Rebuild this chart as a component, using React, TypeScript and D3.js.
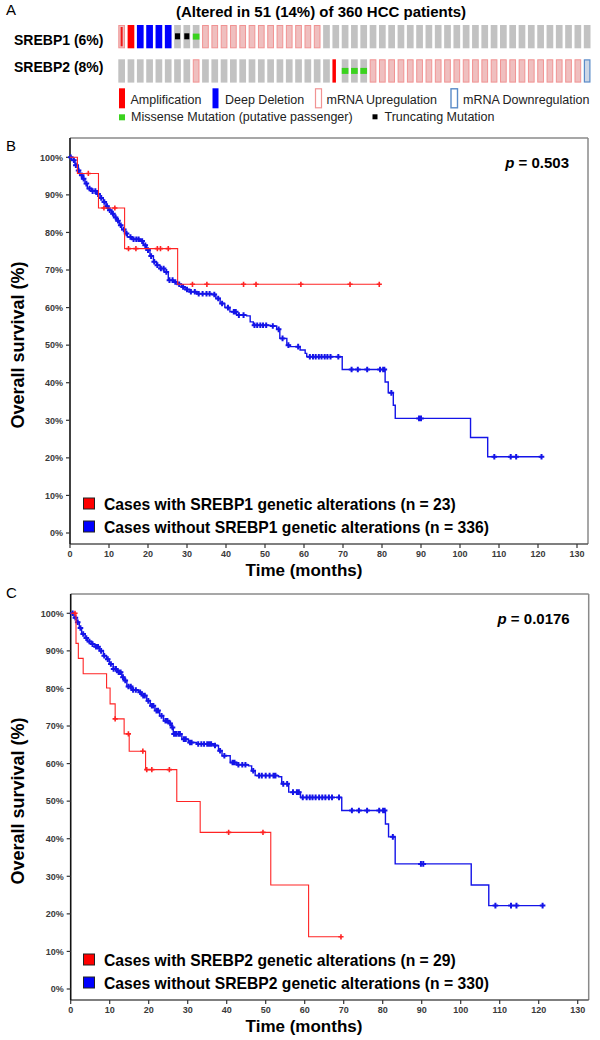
import React from 'react';
import * as d3 from 'd3';

const FONT = '"Liberation Sans", Arial, Helvetica, sans-serif';

// ---------- Panel A: oncoprint ----------
const oncoTitle = '(Altered in 51 (14%) of 360 HCC patients)';
const geneLabels = ['SREBP1 (6%)', 'SREBP2 (8%)'];
// x: mRNA up + amplification sliver, a: amplification, d: deep deletion, t: truncating,
// m: missense, u: mRNA upregulation, w: mRNA downregulation, r: narrow amplification, g: unaltered
const srebp1Cells = 'xaddddttm' + 'uuuuuuuuuuuuu' + 'ggggggggggggggggggggggggggggg';
const srebp2Cells = 'gggggggg' + 'u' + 'gggggggggggggg' + 'r' + 'mmm' + 'uuuuuuuuuuuuuuuuuuuuuuu' + 'w';
const legendRow1 = ['Amplification', 'Deep Deletion', 'mRNA Upregulation', 'mRNA Downregulation'];
const legendRow1Kinds = ['a', 'd', 'uo', 'wo'];
const legendRow2 = ['Missense Mutation (putative passenger)', 'Truncating Mutation'];
const legendRow2Kinds = ['m', 't'];

// ---------- Panel B / C: Kaplan-Meier ----------
type Pt = [number, number];
const xTicks = [0, 10, 20, 30, 40, 50, 60, 70, 80, 90, 100, 110, 120, 130];
const yTicks = [0, 10, 20, 30, 40, 50, 60, 70, 80, 90, 100];

const bRed: Pt[] = [[0, 100], [1.9, 95.7], [7.3, 86.5], [14.0, 75.7], [27.6, 66.2]];
const bRedEnd = 79.3;
const bRedCensor = [4.7, 8.7, 11.5, 15.0, 16.9, 22.4, 23.2, 25.2, 31.4, 35.1, 44.5, 47.7, 59.2, 71.8, 79.3];

const bBlue: Pt[] = [
  [0, 100], [0.43, 99.2], [1.28, 97.9], [2.14, 96.5], [2.56, 95.2], [3.25, 94.3], [3.85, 93.0],
  [4.44, 91.7], [5.56, 91.0], [6.84, 90.2], [7.69, 89.2], [8.55, 88.1], [9.23, 87.0], [9.83, 85.9],
  [10.68, 85.0], [11.28, 84.0], [11.97, 83.1], [12.65, 81.9], [13.25, 80.8], [14.1, 79.7],
  [14.7, 78.8], [15.8, 78.2], [17.95, 77.7], [18.8, 76.6], [19.66, 75.3], [20.5, 73.7],
  [21.4, 72.2], [22.2, 71.3], [23.1, 70.4], [24.1, 69.5], [25.2, 67.3], [26.5, 66.8],
  [27.5, 66.2], [28.6, 65.5], [29.5, 64.8], [30.8, 64.2], [32.5, 63.7], [36.3, 63.5],
  [37.4, 62.4], [38.5, 61.1], [39.7, 60.0], [41.0, 58.9], [42.7, 58.0], [45.3, 57.8],
  [46.2, 56.2], [47.0, 55.3], [51.3, 55.1], [53.0, 54.2], [53.8, 51.8], [55.6, 50.0],
  [56.4, 49.6], [59.0, 48.7], [60.3, 47.8], [60.7, 46.9], [69.8, 43.5], [80.8, 40.2],
  [81.6, 37.3], [82.9, 34.0], [83.4, 30.5], [102.7, 25.4], [107.1, 20.3],
];
const bBlueEnd = 120.9;
const bBlueCensor = [
  0.2, 1, 1.5, 2.2, 3, 3.5, 4.2, 5, 5.8, 6.5, 7.2, 8, 8.8, 9.5, 10.2, 11, 11.7, 12.3, 13, 13.8,
  14.5, 15.5, 16.3, 17, 17.6, 18.5, 19.3, 20, 20.8, 21.6, 22.4, 23.3, 24, 24.7, 25.5, 26.3, 27,
  28, 29, 30, 31, 32, 33, 34, 35, 35.8, 37, 38, 39, 40.5, 42, 42.5, 43.3, 44.5, 47.3, 48, 48.8,
  49.5, 50.3, 52, 53.5, 54.5, 56, 58.5, 61.5, 62.3, 63, 63.8, 64.5, 65.3, 66, 66.8, 68.8, 72.2,
  73.8, 76.2, 79.5, 80.3, 80.6, 82.4, 89.5, 90, 108.8, 113, 114.4, 120.9,
];

const cRed: Pt[] = [
  [0, 100], [1.36, 92.0], [1.96, 88.0], [3.2, 83.9], [9.2, 80.1], [10.1, 75.9], [11.4, 71.9],
  [13.7, 67.9], [15.0, 63.3], [19.2, 58.4], [27.2, 49.9], [33.2, 41.7], [51.3, 27.7], [61.0, 13.9],
];
const cRedEnd = 69.3;
const cRedCensor = [1.1, 11.4, 14.8, 18.5, 19.5, 20.8, 25.3, 40.5, 49.3, 69.3];

const cBlue: Pt[] = [
  [0, 100], [0.86, 98.8], [1.54, 97.6], [2.2, 96.1], [2.8, 94.5], [3.7, 93.4], [4.3, 92.5],
  [5.4, 91.8], [6.2, 91.1], [7.4, 90.0], [8.4, 88.7], [9.2, 87.8], [9.9, 86.5], [10.9, 85.2],
  [12.0, 84.3], [13.1, 83.0], [13.7, 82.1], [14.4, 80.5], [15.7, 79.6], [17.4, 79.0],
  [18.2, 78.1], [19.5, 76.7], [20.4, 75.4], [21.6, 74.1], [22.8, 72.7], [23.8, 71.4],
  [25.1, 70.7], [25.9, 69.6], [26.3, 67.9], [28.5, 66.5], [30.2, 65.6], [32.3, 65.2],
  [36.6, 64.8], [37.9, 63.4], [38.8, 62.1], [40.9, 60.3], [42.6, 59.7], [45.6, 59.4],
  [46.4, 58.1], [47.3, 56.8], [53.3, 56.5], [54.1, 54.6], [55.9, 52.4], [58.9, 51.0],
  [69.5, 47.5], [80.7, 43.9], [81.5, 40.5], [83.2, 33.3], [102.7, 27.7], [107.2, 22.2],
];
const cBlueEnd = 121.0;
const cBlueCensor = [
  0.5, 1.2, 1.8, 2.5, 3.2, 4, 4.8, 5.6, 6.5, 7, 7.8, 8.6, 9.5, 10.3, 11, 11.6, 12.3, 12.8, 13.4,
  14, 14.8, 15.4, 16, 16.7, 17.8, 18.6, 19, 19.9, 20.8, 21.2, 22, 22.4, 23.3, 24.3, 24.8, 25.5,
  26.1, 26.5, 27, 27.6, 28, 29, 29.5, 30.6, 31, 32.7, 33.5, 34.2, 35, 35.5, 36, 37, 38.3, 39.4,
  41.5, 42, 43, 44, 44.8, 46.8, 48.3, 49, 50, 51, 52, 52.5, 54.5, 55.5, 57, 58, 58.5, 59.5, 60.5,
  61.3, 62, 62.8, 63.7, 64.5, 65.3, 66.2, 67, 68.8, 72.1, 73.9, 76, 79.1, 80.1, 80.5, 82.6, 89.8,
  90.4, 108.9, 112.9, 114.3, 121,
];

const bLegend = ['Cases with SREBP1 genetic alterations (n = 23)', 'Cases without SREBP1 genetic alterations (n = 336)'];
const cLegend = ['Cases with SREBP2 genetic alterations (n = 29)', 'Cases without SREBP2 genetic alterations (n = 330)'];

const RED = '#ff2424';
const BLUE = '#1414e8';

function stepValue(curve: Pt[], t: number) {
  let v = curve[0][1];
  for (const [ti, s] of curve) {
    if (ti <= t + 1e-9) v = s;
    else break;
  }
  return v;
}

function Oncoprint() {
  const x = d3.scaleBand<number>().domain(d3.range(51)).range([118.3, 590.5]).paddingInner(0.28).paddingOuter(0);
  const bw = x.bandwidth();
  const rowY = [25, 59.3];
  const h = 23.3;
  const gray = '#c2c2c2';
  const pinkFill = '#efbfbf';
  const pinkStroke = '#f19393';
  const renderCell = (code: string, i: number, y: number) => {
    const cx = x(i)!;
    const key = `${y}-${i}`;
    switch (code) {
      case 'g':
        return <rect key={key} x={cx} y={y} width={bw} height={h} fill={gray} />;
      case 'u':
        return <rect key={key} x={cx + 0.5} y={y + 0.5} width={bw - 1} height={h - 1} fill={pinkFill} stroke={pinkStroke} strokeWidth={1} />;
      case 'x':
        return (
          <g key={key}>
            <rect x={cx + 0.5} y={y + 0.5} width={bw - 1} height={h - 1} fill={pinkFill} stroke={pinkStroke} strokeWidth={1} />
            <rect x={cx + bw / 2 - 1} y={y + 2} width={2} height={h - 4} fill="#f01818" />
          </g>
        );
      case 'a':
        return <rect key={key} x={cx} y={y} width={bw} height={h} fill="#ff0000" />;
      case 'r':
        return <rect key={key} x={cx} y={y} width={3.5} height={h} fill="#ff0000" />;
      case 'd':
        return <rect key={key} x={cx} y={y} width={bw} height={h} fill="#0000ff" />;
      case 't':
        return (
          <g key={key}>
            <rect x={cx} y={y} width={bw} height={h} fill={gray} />
            <rect x={cx + 0.8} y={y + 8.3} width={bw - 1.6} height={6} fill="#000" />
          </g>
        );
      case 'm':
        return (
          <g key={key}>
            <rect x={cx} y={y} width={bw} height={h} fill={gray} />
            <rect x={cx} y={y + 8.6} width={bw} height={6} fill="#3ad21e" />
          </g>
        );
      case 'w':
        return <rect key={key} x={cx + 0.6} y={y + 0.6} width={bw - 1.2} height={h - 1.2} fill="#cdd7e6" stroke="#5a8bc8" strokeWidth={1.2} />;
      default:
        return null;
    }
  };
  const legendSym = (kind: string, lx: number, key: string) => {
    const y0 = 88.3, lh = 20;
    if (kind === 'a') return <rect key={key} x={lx} y={y0} width={6} height={lh} fill="#ff0000" />;
    if (kind === 'd') return <rect key={key} x={lx} y={y0} width={6} height={lh} fill="#0000ff" />;
    if (kind === 'uo') return <rect key={key} x={lx + 0.5} y={y0 + 0.5} width={6} height={lh - 1} fill="#fff" stroke={pinkStroke} strokeWidth={1.2} />;
    if (kind === 'wo') return <rect key={key} x={lx + 0.5} y={y0 + 0.5} width={6.5} height={lh - 1} fill="#fff" stroke="#5a8bc8" strokeWidth={1.4} />;
    if (kind === 'm') return <rect key={key} x={lx} y={114.3} width={6} height={6} fill="#3ad21e" />;
    if (kind === 't') return <rect key={key} x={lx} y={114.3} width={5} height={5} fill="#000" />;
    return null;
  };
  const row1X = [119, 212.5, 315, 450.5];
  const row1TextX = [130.5, 225, 326.5, 463];
  const row2X = [119, 372.5];
  const row2TextX = [131, 384.5];
  return (
    <g>
      <text x={6} y={15} fontSize={15} fontFamily={FONT}>A</text>
      <text x={321} y={17} fontSize={15} fontWeight="bold" fontFamily={FONT} textAnchor="middle">{oncoTitle}</text>
      <text x={14} y={45} fontSize={14} fontWeight="bold" fontFamily={FONT}>{geneLabels[0]}</text>
      <text x={14} y={72} fontSize={14} fontWeight="bold" fontFamily={FONT}>{geneLabels[1]}</text>
      {srebp1Cells.split('').map((c, i) => renderCell(c, i, rowY[0]))}
      {srebp2Cells.split('').map((c, i) => renderCell(c, i, rowY[1]))}
      {legendRow1.map((lab, i) => (
        <g key={lab}>
          {legendSym(legendRow1Kinds[i], row1X[i], 's' + i)}
          <text x={row1TextX[i]} y={104} fontSize={12.5} fontFamily={FONT} fill="#222">{lab}</text>
        </g>
      ))}
      {legendRow2.map((lab, i) => (
        <g key={lab}>
          {legendSym(legendRow2Kinds[i], row2X[i], 't' + i)}
          <text x={row2TextX[i]} y={121} fontSize={12.5} fontFamily={FONT} fill="#222">{lab}</text>
        </g>
      ))}
    </g>
  );
}

interface KMProps {
  top: number;
  left: number;
  letter: string;
  letterY: number;
  pValue: string;
  red: Pt[];
  redEnd: number;
  redCensor: number[];
  blue: Pt[];
  blueEnd: number;
  blueCensor: number[];
  legend: string[];
}

function KMPanel(p: KMProps) {
  const { top, left } = p;
  const right = left + 518;
  const bottom = top + 406;
  const x = d3.scaleLinear().domain([0, 130]).range([left, left + 507]);
  const y = d3.scaleLinear().domain([0, 100]).range([top + 395, top + 19.3]);
  const line = d3.line<Pt>().x((d) => x(d[0])).y((d) => y(d[1])).curve(d3.curveStepAfter);
  const redPath = line([...p.red, [p.redEnd, p.red[p.red.length - 1][1]]]) || '';
  const bluePath = line([...p.blue, [p.blueEnd, p.blue[p.blue.length - 1][1]]]) || '';
  const plus = (curve: Pt[], times: number[], r: number) =>
    times
      .map((t) => {
        const cx = x(t);
        const cy = y(stepValue(curve, t));
        return `M${cx - r},${cy}H${cx + r}M${cx},${cy - r}V${cy + r}`;
      })
      .join('');
  const tickColor = '#3a3a3a';
  return (
    <g>
      <text x={6} y={p.letterY} fontSize={15} fontFamily={FONT}>{p.letter}</text>
      {/* frame */}
      <line x1={left} y1={top} x2={right} y2={top} stroke="#8a8a8a" strokeWidth={1.5} />
      <line x1={right} y1={top} x2={right} y2={bottom} stroke="#8a8a8a" strokeWidth={1.5} />
      <line x1={left} y1={bottom} x2={right} y2={bottom} stroke="#555" strokeWidth={1.5} />
      <line x1={left} y1={top} x2={left} y2={bottom} stroke="#111" strokeWidth={1.6} />
      {yTicks.map((v) => (
        <g key={'y' + v}>
          <line x1={left - 4} x2={left} y1={y(v)} y2={y(v)} stroke="#333" strokeWidth={1.2} />
          <text x={left - 7} y={y(v) + 3.3} fontSize={9} fontWeight="bold" fill={tickColor} fontFamily={FONT} textAnchor="end">{v}%</text>
        </g>
      ))}
      {xTicks.map((v) => (
        <g key={'x' + v}>
          <line x1={x(v)} x2={x(v)} y1={bottom} y2={bottom + 4} stroke="#333" strokeWidth={1.2} />
          <text x={x(v)} y={bottom + 13} fontSize={9} fontWeight="bold" fill={tickColor} fontFamily={FONT} textAnchor="middle">{v}</text>
        </g>
      ))}
      <text x={304} y={bottom + 32} fontSize={17} fontWeight="bold" fontFamily={FONT} textAnchor="middle">Time (months)</text>
      <text transform={`translate(24,${top + 207}) rotate(-90)`} fontSize={18} fontWeight="bold" fontFamily={FONT} textAnchor="middle">Overall survival (%)</text>
      {/* curves */}
      <path d={bluePath} fill="none" stroke={BLUE} strokeWidth={1.4} />
      <path d={plus(p.blue, p.blueCensor, 2.8)} fill="none" stroke={BLUE} strokeWidth={2} />
      <path d={redPath} fill="none" stroke={RED} strokeWidth={1.1} />
      <path d={plus(p.red, p.redCensor, 2.6)} fill="none" stroke={RED} strokeWidth={1.6} />
      {/* p value */}
      <text x={right - 19} y={top + 30} fontSize={15} fontWeight="bold" fontFamily={FONT} textAnchor="end">
        <tspan fontStyle="italic">p</tspan> = {p.pValue}
      </text>
      {/* legend */}
      <rect x={83.5} y={top + 360} width={11} height={11} fill="#ff0000" stroke="#222" strokeWidth={1} />
      <rect x={83.5} y={top + 383} width={11} height={11} fill="#0000ff" stroke="#222" strokeWidth={1} />
      <text x={104} y={top + 372} fontSize={15.7} fontWeight="bold" fontFamily={FONT}>{p.legend[0]}</text>
      <text x={104} y={top + 395} fontSize={15.7} fontWeight="bold" fontFamily={FONT}>{p.legend[1]}</text>
    </g>
  );
}

export default function App() {
  return (
    <svg width={600} height={1040} viewBox="0 0 600 1040" style={{ position: 'absolute', left: 0, top: 0, background: '#fff' }}>
      <rect x={0} y={0} width={600} height={1040} fill="#fff" />
      <Oncoprint />
      <KMPanel top={138} left={70} letter="B" letterY={150.5} pValue="0.503"
        red={bRed} redEnd={bRedEnd} redCensor={bRedCensor}
        blue={bBlue} blueEnd={bBlueEnd} blueCensor={bBlueCensor} legend={bLegend} />
      <KMPanel top={594} left={70.7} letter="C" letterY={598} pValue="0.0176"
        red={cRed} redEnd={cRedEnd} redCensor={cRedCensor}
        blue={cBlue} blueEnd={cBlueEnd} blueCensor={cBlueCensor} legend={cLegend} />
    </svg>
  );
}
